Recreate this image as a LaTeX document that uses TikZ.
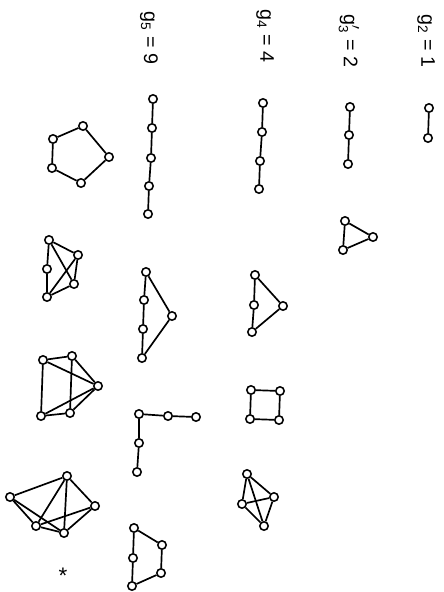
\documentclass[tikz,border=0pt]{standalone}
\usepackage{fontspec}
\setmainfont{Liberation Sans}
\usepackage{tikz}
\usetikzlibrary{positioning}
\tikzset{
	vertexnode/.style={
			circle,
			draw=black,
			line width=1.1pt,
			fill=white,
			minimum size=2.1mm,
			inner sep=0pt
		},
	countlabel/.style={
			rotate=-90,
			font=\fontsize{14}{16}\selectfont,
			inner sep=0pt
		}
}
\tikzset{
	graphedge/.style={line width=1.2pt, black}
}

\begin{document}
\begin{tikzpicture}[x=0.025cm, y=-0.025cm]
  \useasboundingbox (0,0) rectangle (443,592);

  % counts
  \node[countlabel] (l2) at (426,41) {g\textsubscript{2} = 1};
  \node[countlabel] (l3) at (349,41) {g$^{\prime}_{\mbox{\fontsize{9.5}{9.5}\selectfont 3}}$ = 2};
  \node[countlabel] (l4) at (265,36) {g\textsubscript{4} = 4};
  \node[countlabel] (l5) at (149,38) {g\textsubscript{5} = 9};

  % two vertices
  \node[vertexnode] (a1) at (429,108) {};
  \node[vertexnode] (a2) at (428,138) {};
  \draw[graphedge] (a1) -- (a2);

  % three vertices
  \node[vertexnode] (b1) at (350,107) {};
  \node[vertexnode] (b2) at (349,135) {};
  \node[vertexnode] (b3) at (348,164) {};
  \draw[graphedge] (b1) -- (b2) -- (b3);

  \node[vertexnode] (c1) at (345,221) {};
  \node[vertexnode] (c2) at (373,237) {};
  \node[vertexnode] (c3) at (343,250) {};
  \draw[graphedge] (c1) -- (c2) -- (c3) -- (c1);

  % four vertices
  \node[vertexnode] (d1) at (263,103) {};
  \node[vertexnode] (d2) at (262,132) {};
  \node[vertexnode] (d3) at (260,161) {};
  \node[vertexnode] (d4) at (259,189) {};
  \draw[graphedge] (d1) -- (d2) -- (d3) -- (d4);

  \node[vertexnode] (e1) at (255,275) {};
  \node[vertexnode] (e2) at (254,305) {};
  \node[vertexnode] (e3) at (252,332) {};
  \node[vertexnode] (e4) at (283,306) {};
  \draw[graphedge] (e1) -- (e2) -- (e3) -- (e4) -- (e1);

  \node[vertexnode] (f1) at (251,390) {};
  \node[vertexnode] (f2) at (280,391) {};
  \node[vertexnode] (f3) at (279,420) {};
  \node[vertexnode] (f4) at (250,419) {};
  \draw[graphedge] (f1) -- (f2) -- (f3) -- (f4) -- (f1);

  \node[vertexnode] (g1) at (247,474) {};
  \node[vertexnode] (g2) at (274,497) {};
  \node[vertexnode] (g3) at (242,504) {};
  \node[vertexnode] (g4) at (264,526) {};
  \draw[graphedge] (g1) -- (g2) -- (g4) -- (g3) -- (g1);
  \draw[graphedge] (g1) -- (g4);
  \draw[graphedge] (g3) -- (g2);

  % five vertices
  \node[vertexnode] (h1) at (153,99) {};
  \node[vertexnode] (h2) at (152,128) {};
  \node[vertexnode] (h3) at (151,158) {};
  \node[vertexnode] (h4) at (149,186) {};
  \node[vertexnode] (h5) at (148,214) {};
  \draw[graphedge] (h1) -- (h2) -- (h3) -- (h4) -- (h5);

  \node[vertexnode] (i1) at (146,272) {};
  \node[vertexnode] (i2) at (144,300) {};
  \node[vertexnode] (i3) at (143,329) {};
  \node[vertexnode] (i4) at (142,358) {};
  \node[vertexnode] (i5) at (172,316) {};
  \draw[graphedge] (i1) -- (i2) -- (i3) -- (i4) -- (i5) -- (i1);

  \node[vertexnode] (j1) at (196,417) {};
  \node[vertexnode] (j2) at (168,416) {};
  \node[vertexnode] (j3) at (139,414) {};
  \node[vertexnode] (j4) at (139,443) {};
  \node[vertexnode] (j5) at (137,472) {};
  \draw[graphedge] (j1) -- (j2) -- (j3) -- (j4) -- (j5);

  \node[vertexnode] (k1) at (134,528) {};
  \node[vertexnode] (k2) at (162,545) {};
  \node[vertexnode] (k3) at (161,573) {};
  \node[vertexnode] (k4) at (132,586) {};
  \node[vertexnode] (k5) at (133,558) {};
  \draw[graphedge] (k1) -- (k2) -- (k3) -- (k4) -- (k5) -- (k1);

  \node[vertexnode] (m1) at (53,139) {};
  \node[vertexnode] (m2) at (83,126) {};
  \node[vertexnode] (m3) at (109,157) {};
  \node[vertexnode] (m4) at (81,183) {};
  \node[vertexnode] (m5) at (52,168) {};
  \draw[graphedge] (m1) -- (m2) -- (m3) -- (m4) -- (m5) -- (m1);

  \node[vertexnode] (n1) at (49,240) {};
  \node[vertexnode] (n2) at (78,255) {};
  \node[vertexnode] (n3) at (47,269) {};
  \node[vertexnode] (n4) at (74,284) {};
  \node[vertexnode] (n5) at (47,297) {};
  \draw[graphedge] (n1) -- (n2) -- (n4) -- (n5) -- (n3) -- (n1);
  \draw[graphedge] (n1) -- (n4);
  \draw[graphedge] (n2) -- (n5);

  \node[vertexnode] (o1) at (43,360) {};
  \node[vertexnode] (o2) at (72,356) {};
  \node[vertexnode] (o3) at (98,386) {};
  \node[vertexnode] (o4) at (70,413) {};
  \node[vertexnode] (o5) at (41,416) {};
  \draw[graphedge] (o1) -- (o2) -- (o3) -- (o4) -- (o5) -- (o1);
  \draw[graphedge] (o1) -- (o3) -- (o5);
  \draw[graphedge] (o2) -- (o4);

  \node[vertexnode] (q1) at (10,497) {};
  \node[vertexnode] (q2) at (67,476) {};
  \node[vertexnode] (q3) at (95,506) {};
  \node[vertexnode] (q4) at (64,533) {};
  \node[vertexnode] (q5) at (36,526) {};
  \draw[graphedge] (q1) -- (q2) -- (q3) -- (q4) -- (q5) -- (q1);
  \draw[graphedge] (q1) -- (q4);
  \draw[graphedge] (q2) -- (q4);
  \draw[graphedge] (q2) -- (q5) -- (q3);

  \node[font=\fontsize{16}{16}\selectfont, inner sep=0pt] (star) at (63,576) {*};

\end{tikzpicture}
\end{document}
